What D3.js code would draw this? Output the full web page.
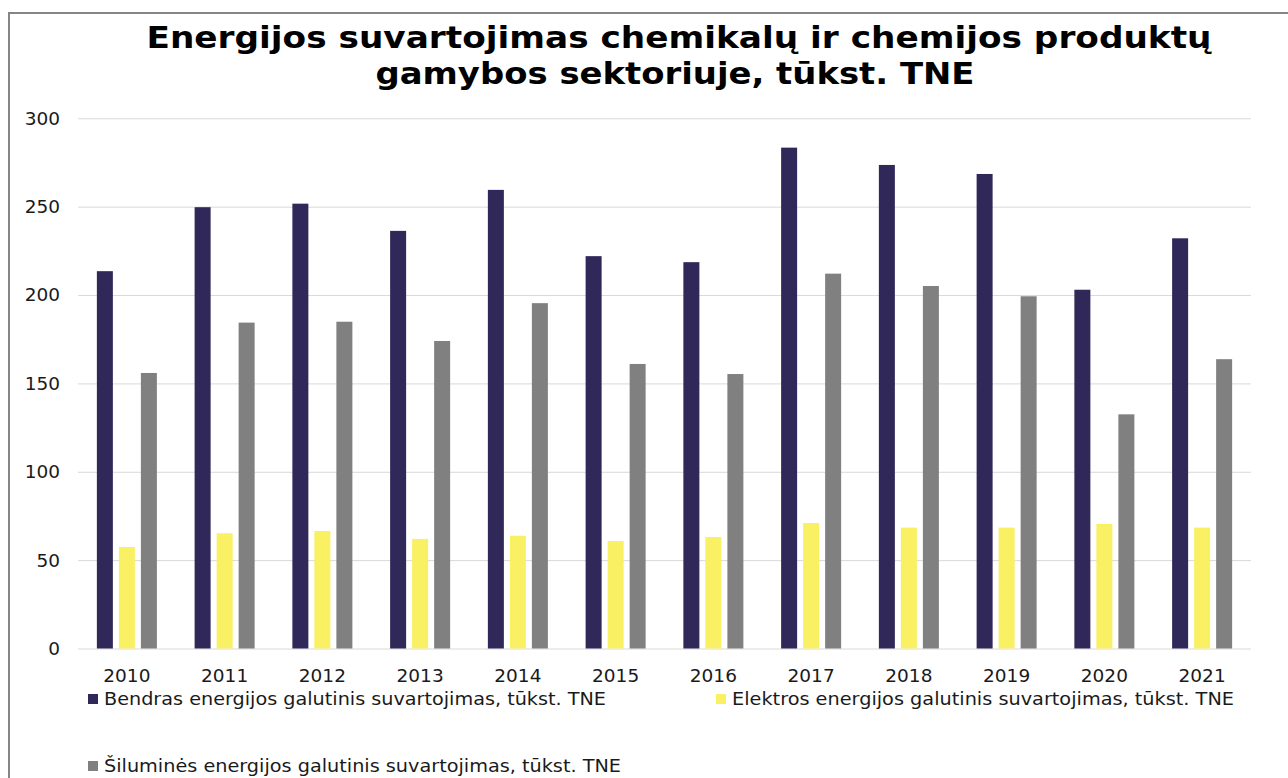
<!DOCTYPE html>
<html>
<head>
<meta charset="utf-8">
<script src="https://cdn.jsdelivr.net/npm/d3@7"></script>
<style>
  body { margin: 0; background: #fff; }
  text { font-family: "DejaVu Sans", Verdana, sans-serif; }
</style>
</head>
<body>
<div id="viz"></div>
<script>

const width = 1288;
const height = 778;

// data
var years = ["2010", "2011", "2012", "2013", "2014", "2015", "2016", "2017", "2018", "2019", "2020", "2021"]
var bendras = [213.5, 249.7, 251.7, 236.3, 259.5, 222, 218.6, 283.4, 273.6, 268.5, 203, 232.1]
var elektros = [57.4, 65.2, 66.5, 62, 63.8, 60.8, 63.1, 71, 68.4, 68.4, 70.5, 68.4]
var siluma = [155.9, 184.4, 184.9, 174, 195.4, 161, 155.3, 212.1, 205.1, 199.3, 132.5, 163.7]
var seriesNames = [
    "Bendras energijos galutinis suvartojimas, tūkst. TNE",
    "Elektros energijos galutinis suvartojimas, tūkst. TNE",
    "Šiluminės energijos galutinis suvartojimas, tūkst. TNE"
]
var colors = ["#302858", "#faf064", "#808080"]
var yTicks = [0, 50, 100, 150, 200, 250, 300]

var seriesValues = [bendras, elektros, siluma]

const svg = d3.select("#viz")
    .append("svg")
    .attr("width", width)
    .attr("height", height);

// frame
svg.append("path")
    .attr("d", "M9," + (height + 5) + " V13 H" + (width + 5))
    .attr("fill", "none")
    .attr("stroke", "#858585")
    .attr("stroke-width", 2);

// title (Verdana-like width: stretch the glyphs a bit)
const title = svg.append("text")
    .attr("text-anchor", "middle")
    .attr("font-weight", "bold")
    .attr("font-size", 31)
    .attr("fill", "#000");
title.append("tspan").attr("x", 679).attr("y", 48)
    .attr("textLength", 1065).attr("lengthAdjust", "spacingAndGlyphs")
    .text("Energijos suvartojimas chemikalų ir chemijos produktų");
title.append("tspan").attr("x", 675).attr("y", 84)
    .attr("textLength", 599).attr("lengthAdjust", "spacingAndGlyphs")
    .text("gamybos sektoriuje, tūkst. TNE");

const margin = { left: 78, right: 1251, top: 118.3, bottom: 648.5 }

const y = d3.scaleLinear()
    .domain([0, 300])
    .range([margin.bottom, margin.top]);

const x0 = d3.scaleBand()
    .domain(years)
    .range([margin.left, margin.right])
    .paddingInner(0.386)
    .paddingOuter(0.193);

const x1 = d3.scaleBand()
    .domain(d3.range(3))
    .range([0, x0.bandwidth()])
    .paddingInner(0.273);

// gridlines + y labels
const yAxis = svg.append("g")
    .attr("transform", "translate(" + margin.left + ",0)")
    .call(d3.axisLeft(y).tickValues(yTicks).tickSize(-(margin.right - margin.left)).tickPadding(18));
yAxis.select(".domain").remove();
yAxis.selectAll(".tick line").attr("stroke", "#d9d9d9").attr("stroke-width", 1);
yAxis.selectAll(".tick text")
    .attr("font-family", "DejaVu Sans")
    .attr("font-size", 18.5)
    .attr("fill", "#1a1a1a");

// bars
const groups = svg.append("g")
    .selectAll("g")
    .data(years)
    .join("g")
    .attr("transform", d => "translate(" + x0(d) + ",0)");

groups.selectAll("rect")
    .data((d, i) => seriesValues.map((s, k) => ({ k: k, v: s[i] })))
    .join("rect")
    .attr("x", d => x1(d.k))
    .attr("width", x1.bandwidth())
    .attr("y", d => y(d.v))
    .attr("height", d => y(0) - y(d.v))
    .attr("fill", d => colors[d.k]);

// x labels
const xAxis = svg.append("g")
    .attr("transform", "translate(0," + margin.bottom + ")")
    .call(d3.axisBottom(x0).tickSize(0).tickPadding(20));
xAxis.select(".domain").remove();
xAxis.selectAll(".tick text")
    .attr("font-family", "DejaVu Sans")
    .attr("font-size", 18.5)
    .attr("fill", "#1a1a1a");

// legend
var legendPos = [[88, 699], [716, 699], [88, 766]]
var legendLen = [502, 502, 517]
const legend = svg.append("g")
    .selectAll("g")
    .data(seriesNames)
    .join("g")
    .attr("transform", (d, i) => "translate(" + legendPos[i][0] + "," + legendPos[i][1] + ")");

legend.append("rect")
    .attr("x", 0)
    .attr("y", -5)
    .attr("width", 10)
    .attr("height", 10)
    .attr("fill", (d, i) => colors[i]);

legend.append("text")
    .attr("x", 16)
    .attr("y", 0)
    .attr("dy", "0.35em")
    .attr("font-size", 18.5)
    .attr("textLength", (d, i) => legendLen[i])
    .attr("lengthAdjust", "spacingAndGlyphs")
    .attr("fill", "#1a1a1a")
    .text(d => d);

</script>
</body>
</html>
